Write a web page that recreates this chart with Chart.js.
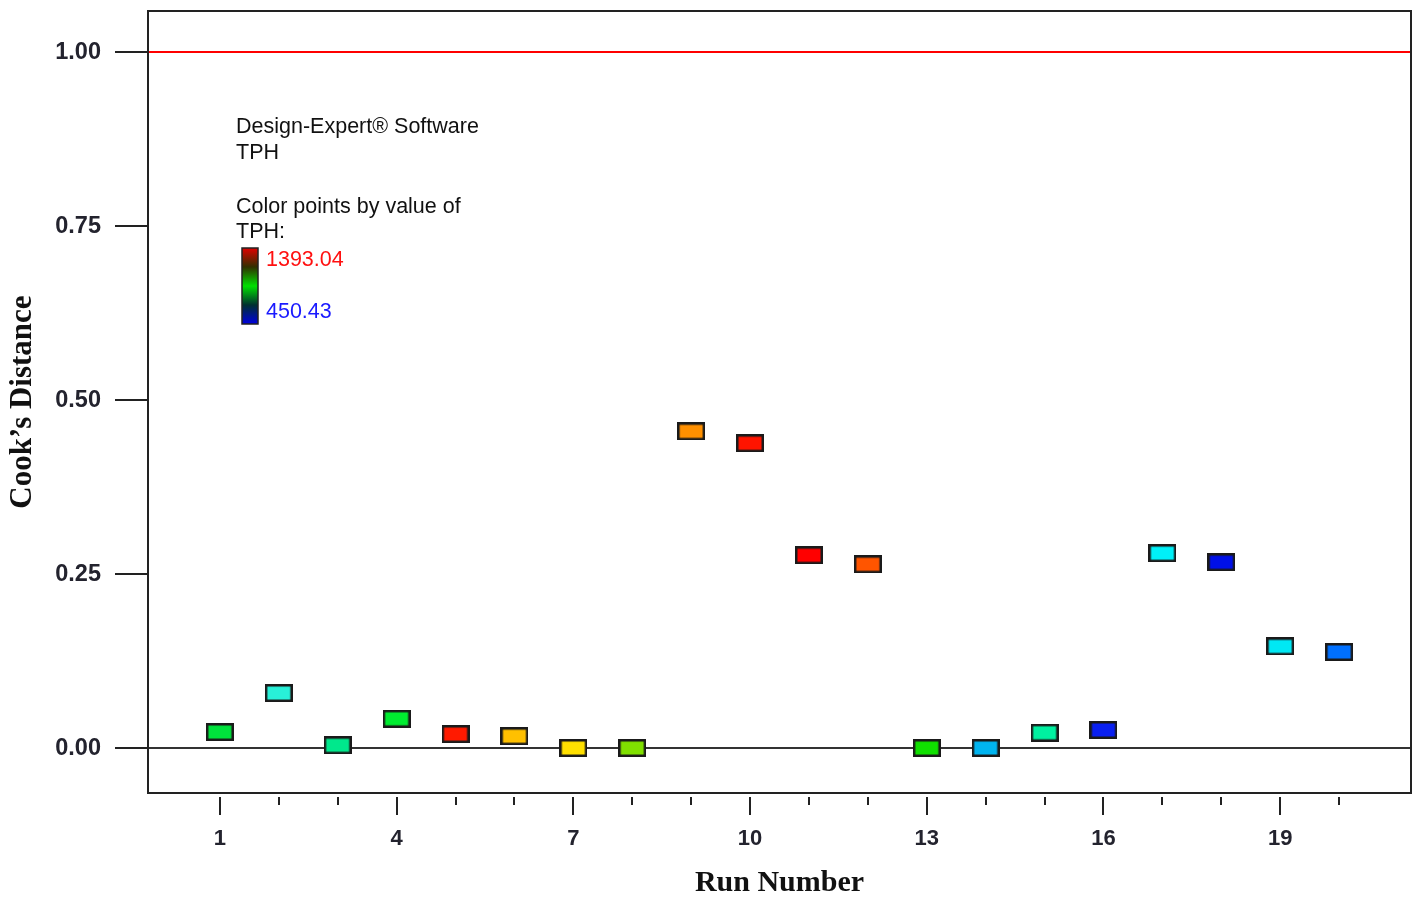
<!DOCTYPE html>
<html>
<head>
<meta charset="utf-8">
<script src="https://cdn.jsdelivr.net/npm/chart.js@4/dist/chart.umd.min.js"></script>
<style>
  html, body { margin: 0; padding: 0; background: #fff; }
  #wrap { width: 1422px; height: 901px; }
</style>
</head>
<body>
<div id="wrap"><canvas id="cooks" width="1422" height="901"></canvas></div>
<script>
const runs = [1, 2, 3, 4, 5, 6, 7, 8, 9, 10, 11, 12, 13, 14, 15, 16, 17, 18, 19, 20];
const cooksDistance = [0.023, 0.079, 0.004, 0.042, 0.020, 0.017, 0.000, 0.000, 0.455, 0.438,
  0.277, 0.264, 0.000, 0.000, 0.022, 0.026, 0.280, 0.267, 0.146, 0.138];
const pointColors = ["#00e23c", "#28f0d8", "#00e88c", "#00ec30", "#ff1a00", "#ffc000", "#ffe000",
  "#80e000", "#ff9000", "#ff1400", "#ff0000", "#ff5500", "#10e000", "#00b4f0", "#00f0a0",
  "#0a20f0", "#00f0f8", "#0010e8", "#00e8f4", "#0070ff"];
const yTicks = [0, 0.25, 0.5, 0.75, 1.0];
const xLabelTicks = [1, 4, 7, 10, 13, 16, 19];
const cutoff = 1.0;
const tphMax = "1393.04";
const tphMin = "450.43";

function boxMarker(fill) {
  const c = document.createElement("canvas");
  c.width = 28;
  c.height = 18;
  const g = c.getContext("2d");
  g.fillStyle = "#1a1a1a";
  g.fillRect(0, 0, 28, 18);
  g.fillStyle = fill;
  g.fillRect(2.5, 2.5, 23, 13);
  return c;
}

const overlay = {
  id: "overlay",
  beforeDatasetsDraw(chart) {
    const { ctx, chartArea: a, scales } = chart;
    const y = scales.y;
    ctx.save();
    // reference lines
    ctx.lineWidth = 2;
    ctx.strokeStyle = "#ff0000";
    ctx.beginPath();
    ctx.moveTo(a.left, y.getPixelForValue(cutoff));
    ctx.lineTo(a.right, y.getPixelForValue(cutoff));
    ctx.stroke();
    ctx.strokeStyle = "#333";
    ctx.beginPath();
    ctx.moveTo(a.left, y.getPixelForValue(0));
    ctx.lineTo(a.right, y.getPixelForValue(0));
    ctx.stroke();
    ctx.restore();
  },
  afterDraw(chart) {
    const { ctx, chartArea: a, scales } = chart;
    const x = scales.x;
    ctx.save();
    // plot frame
    ctx.lineWidth = 2;
    ctx.strokeStyle = "#222";
    ctx.strokeRect(a.left, a.top, a.right - a.left, a.bottom - a.top);
    // x tick marks
    ctx.lineWidth = 2;
    for (const r of runs) {
      const px = Math.round(x.getPixelForValue(r));
      const major = xLabelTicks.includes(r);
      ctx.beginPath();
      ctx.moveTo(px, a.bottom + 4);
      ctx.lineTo(px, a.bottom + (major ? 22 : 12));
      ctx.stroke();
    }
    // legend text
    const lx = a.left + 88;
    ctx.fillStyle = "#111";
    ctx.font = "21.5px 'Liberation Sans', Arial, sans-serif";
    ctx.textBaseline = "middle";
    ctx.textAlign = "left";
    ctx.fillText("Design-Expert® Software", lx, 127);
    ctx.fillText("TPH", lx, 153);
    ctx.fillText("Color points by value of", lx, 207);
    ctx.fillText("TPH:", lx, 232);
    // colour bar
    const bx = lx + 6, by = 248, bw = 16, bh = 76;
    const grad = ctx.createLinearGradient(0, by, 0, by + bh);
    grad.addColorStop(0, "#e00000");
    grad.addColorStop(0.25, "#303000");
    grad.addColorStop(0.5, "#00e000");
    grad.addColorStop(0.75, "#003030");
    grad.addColorStop(1, "#0000e0");
    ctx.fillStyle = grad;
    ctx.fillRect(bx, by, bw, bh);
    ctx.lineWidth = 1.5;
    ctx.strokeStyle = "#222";
    ctx.strokeRect(bx, by, bw, bh);
    ctx.fillStyle = "#ff1010";
    ctx.fillText(tphMax, bx + 24, 260);
    ctx.fillStyle = "#1a1aff";
    ctx.fillText(tphMin, bx + 24, 312);
    ctx.restore();
  }
};

new Chart(document.getElementById("cooks"), {
  type: "scatter",
  data: {
    datasets: [
      {
        label: "Cook's Distance",
        data: runs.map((r, i) => ({ x: r, y: cooksDistance[i] })),
        pointStyle: pointColors.map(boxMarker),
        pointRadius: 10,
        pointHoverRadius: 10,
      },
    ],
  },
  options: {
    responsive: false,
    animation: false,
    events: [],
    layout: { padding: { top: 2, right: 10, left: 0, bottom: 0 } },
    plugins: { legend: { display: false }, tooltip: { enabled: false } },
    scales: {
      x: {
        type: "linear",
        min: -0.22,
        max: 21.22,
        afterBuildTicks: (s) => { s.ticks = xLabelTicks.map((v) => ({ value: v })); },
        afterFit: (s) => { s.height = 108; s.paddingLeft = 0; s.paddingRight = 0; },
        grid: { display: false, drawTicks: false },
        border: { display: false },
        ticks: {
          padding: 33,
          color: "#23232e",
          font: { family: "'Liberation Sans', Arial, sans-serif", size: 22, weight: "bold" },
          maxRotation: 0,
          autoSkip: false,
        },
        title: {
          display: true,
          text: "Run Number",
          color: "#111",
          font: { family: "'Liberation Serif', 'Times New Roman', serif", size: 30, weight: "bold" },
          padding: { top: 12, bottom: 0 },
        },
      },
      y: {
        min: -0.0646,
        max: 1.059,
        afterBuildTicks: (s) => { s.ticks = yTicks.map((v) => ({ value: v })); },
        afterFit: (s) => { s.width = 148; s.paddingTop = 0; s.paddingBottom = 0; },
        grid: { drawOnChartArea: false, drawTicks: true, tickLength: 33, color: "#222", lineWidth: 2 },
        border: { display: false },
        ticks: {
          padding: 14,
          color: "#23232e",
          font: { family: "'Liberation Sans', Arial, sans-serif", size: 23.5, weight: "bold" },
          callback: (v) => v.toFixed(2),
        },
        title: {
          display: true,
          text: "Cook\u2019s Distance",
          color: "#111",
          font: { family: "'Liberation Serif', 'Times New Roman', serif", size: 31, weight: "bold" },
          padding: { bottom: 4 },
        },
      },
    },
  },
  plugins: [overlay],
});
</script>
</body>
</html>
